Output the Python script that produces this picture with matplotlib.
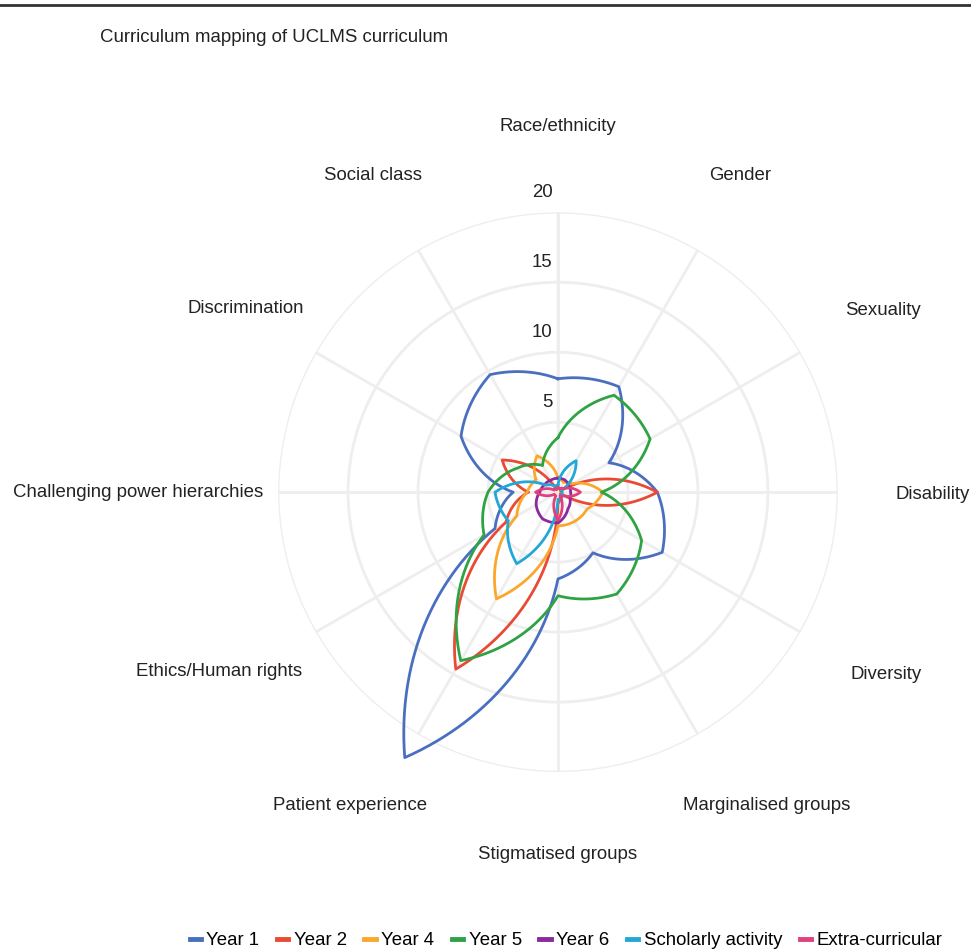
import numpy as np
import matplotlib
matplotlib.use('Agg')
import matplotlib.pyplot as plt
from matplotlib.lines import Line2D

plt.rcParams['font.family'] = ['Liberation Sans', 'DejaVu Sans']

# categories clockwise from the top
categories = ['Race/ethnicity', 'Gender', 'Sexuality', 'Disability', 'Diversity',
              'Marginalised groups', 'Stigmatised groups', 'Patient experience',
              'Ethics/Human rights', 'Challenging power hierarchies',
              'Discrimination', 'Social class']

year1 = [8.1, 8.7, 4.2, 7.1, 8.6, 5.0, 6.2, 21.9, 5.2, 3.2, 8.0, 9.7]
year2 = [0.3, 0.3, 0.2, 7.1, 0.2, 0.3, 0.8, 14.6, 4.3, 2.1, 4.6, 0.2]
year4 = [1.0, 0.8, 1.2, 3.2, 2.4, 2.4, 2.4, 8.8, 3.4, 2.2, 1.8, 3.0]
year5 = [3.9, 8.0, 7.6, 3.1, 6.9, 8.4, 7.4, 13.9, 6.1, 5.0, 3.4, 2.2]
year6 = [1.0, 1.0, 0.9, 0.9, 1.0, 1.4, 2.2, 2.2, 1.8, 1.3, 1.1, 1.0]
scholarly = [0.5, 2.6, 0.3, 0.3, 0.3, 0.5, 0.5, 5.9, 4.1, 4.5, 1.0, 0.5]
extra = [0.3, 0.3, 0.5, 1.6, 0.5, 0.3, 2.0, 0.3, 0.3, 1.6, 0.3, 0.3]

series = [('Year 1', year1), ('Year 2', year2), ('Year 4', year4),
          ('Year 5', year5), ('Year 6', year6),
          ('Scholarly activity', scholarly), ('Extra-curricular', extra)]
colors = ['#4a6fc0', '#ea4a34', '#fba62c', '#2fa344', '#8a2a9c', '#23a7d6', '#e0407c']

r_ticks = [5, 10, 15, 20]
# where the category labels sit (degrees clockwise, distance in axis units)
label_ang = [0, 30, 60.7, 90.3, 119, 146.3, 180, 213.6, 242.2, 270, 300.5, 329.7]
label_r = [26.1, 26.1, 26.6, 26.8, 26.8, 26.9, 25.9, 26.9, 27.4, 30.0, 25.9, 26.2]
fs = 13.4

fig = plt.figure(figsize=(9.71, 9.52), dpi=100)
ax = fig.add_axes([0.2863, 0.189, 0.5767, 0.588], projection='polar')
ax.set_theta_zero_location('N')
ax.set_theta_direction(-1)

theta = np.deg2rad(np.arange(len(categories)) * 30)
for (name, vals), c in zip(series, colors):
    t = np.append(theta, 2 * np.pi)
    v = np.append(vals, vals[0])
    ln, = ax.plot(t, v, color=c, linewidth=2, label=name, clip_on=False)
    # segments follow (theta, r) space like the original chart
    ln.get_path()._interpolation_steps = 60

ax.set_ylim(0, 20)
ax.set_yticks(r_ticks)
ax.set_yticklabels([])
ax.set_xticks(theta)
ax.set_xticklabels([])
ax.grid(True, color='#eeeeee', linewidth=2)
ax.spines['polar'].set_visible(False)
ax.set_axisbelow(True)
ax.plot([0, 0], [0, 20], color='#dcdcdc', linewidth=1.6, zorder=0.5)

for r in r_ticks:
    ax.annotate(str(r), xy=(0, r), xytext=(-4, 8), textcoords='offset points',
                ha='right', va='bottom', fontsize=fs, color='#222222')

for a, lab, lr in zip(label_ang, categories, label_r):
    ax.text(np.deg2rad(a), lr, lab, ha='center', va='center', fontsize=fs, color='#222222')

fig.text(0.103, 0.961, 'Curriculum mapping of UCLMS curriculum', fontsize=fs,
         ha='left', va='center', color='#222222')
fig.add_artist(Line2D([0, 1], [0.995, 0.995], color='#333333', linewidth=2))

handles = [Line2D([], [], color=c, linewidth=3.5) for c in colors]
fig.legend(handles, [s[0] for s in series], loc='center', bbox_to_anchor=(0.583, 0.012),
           ncol=7, frameon=False, fontsize=fs, handlelength=0.6,
           handletextpad=0.3, columnspacing=0.95)

fig.savefig('out.png', dpi=100)
